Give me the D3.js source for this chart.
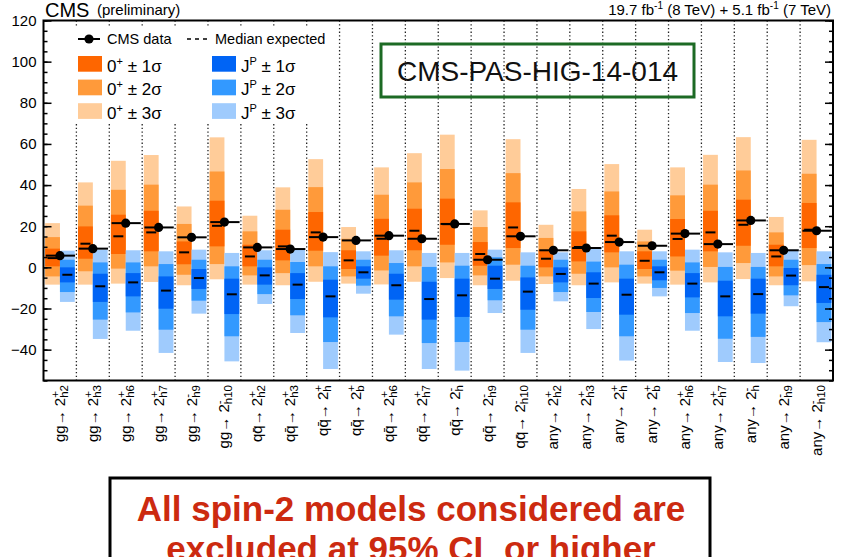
<!DOCTYPE html>
<html>
<head>
<meta charset="utf-8">
<script src="https://cdn.jsdelivr.net/npm/d3@7"></script>
<style>
body { margin: 0; background: #fff; }
svg text { font-family: "Liberation Sans", Arial, Helvetica, sans-serif; }
</style>
</head>
<body>
<script>
// categories: production mode + spin-2 model (parity / subscript)
const prodModes = ["gg","gg","gg","gg","gg","gg",
  "qq\u0304","qq\u0304","qq\u0304","qq\u0304","qq\u0304","qq\u0304","qq\u0304","qq\u0304","qq\u0304",
  "any","any","any","any","any","any","any","any","any"];
const spinSup = ["+","+","+","+","-","-",
  "+","+","+","+","+","+","-","-","-",
  "+","+","+","+","+","+","-","-","-"];
const spinSub = ["h2","h3","h6","h7","h9","h10",
  "h2","h3","h","b","h6","h7","h","h9","h10",
  "h2","h3","h","b","h6","h7","h","h9","h10"];

// observed test statistic
const cmsData = [5.7, 9.1, 21.5, 19.4, 14.6, 22.0, 9.7, 8.9, 14.7, 13.1, 15.4, 13.9,
  21.1, 3.7, 15.1, 8.3, 9.4, 12.3, 10.5, 16.4, 11.3, 22.8, 8.3, 17.8];

// 0+ expectation
const smMedian = [4.5, 11.5, 15.1, 17.0, 7.3, 20.2, 5.3, 10.2, 17.0, 3.4, 13.9, 17.8,
  21.0, 6.5, 19.4, 4.2, 9.9, 15.4, 3.2, 13.8, 17.0, 20.7, 5.3, 18.3];
const sm1Hi = [9.1, 19.9, 25.6, 27.5, 12.6, 32.4, 11.0, 18.3, 26.9, 8.3, 23.6, 28.5,
  33.4, 12.3, 31.6, 8.6, 17.5, 25.3, 7.8, 23.5, 27.5, 32.9, 11.0, 31.3];
const sm1Lo = [0.5, 4.2, 6.5, 7.8, 1.5, 10.2, 0.5, 3.4, 8.1, -0.8, 5.7, 8.3,
  11.0, 0.8, 9.4, 0.0, 2.9, 7.3, -0.8, 5.3, 7.8, 10.5, 0.5, 9.4];
const sm2Hi = [14.7, 30.0, 37.7, 40.2, 21.1, 46.6, 17.5, 28.0, 39.0, 13.9, 35.3, 41.3,
  47.8, 19.6, 45.8, 14.3, 27.2, 36.9, 12.6, 35.0, 40.2, 47.1, 17.0, 45.5];
const sm2Lo = [-4.4, -1.9, -0.6, 0.5, -3.6, 1.6, -3.9, -2.8, 0.5, -4.4, -1.5, 0.5,
  2.4, -3.9, 1.3, -4.4, -3.1, 0.0, -4.4, -1.6, 0.2, 2.1, -4.4, 1.1];
const sm3Hi = [21.5, 41.3, 51.8, 54.6, 29.6, 63.2, 25.1, 38.9, 52.6, 19.6, 48.6, 55.5,
  64.5, 27.7, 62.3, 20.7, 38.1, 50.2, 18.3, 48.6, 54.7, 63.3, 24.5, 62.0];
const sm3Lo = [-8.4, -8.4, -7.9, -7.1, -8.7, -5.8, -8.4, -8.7, -7.0, -7.9, -8.3, -7.0,
  -5.2, -8.7, -6.5, -8.1, -8.7, -7.3, -7.9, -8.4, -7.3, -5.7, -8.7, -6.8];

// J^P expectation
const altMedian = [-3.6, -9.2, -7.3, -11.3, -5.2, -13.1, -3.9, -8.4, -14.1, -2.4, -8.7, -15.4,
  -13.6, -5.5, -11.8, -3.2, -7.9, -13.3, -2.4, -7.9, -14.1, -13.0, -4.0, -9.6];
const alt1Hi = [0.0, -3.1, -2.8, -4.4, -0.8, -5.5, 0.0, -2.8, -6.0, 0.5, -3.1, -7.0,
  -5.5, 0.8, -4.9, 0.0, -2.4, -5.5, 0.5, -2.8, -6.5, -5.5, -0.3, -3.6];
const alt1Lo = [-7.3, -16.8, -14.1, -20.1, -10.5, -22.7, -8.4, -15.4, -24.3, -5.5, -15.7, -25.4,
  -24.1, -10.5, -20.6, -7.3, -14.9, -23.0, -6.3, -14.6, -23.8, -22.5, -8.7, -17.3];
const alt2Hi = [3.7, 2.4, 2.4, 1.6, 3.7, 0.5, 3.7, 2.6, 0.5, 3.7, 2.1, 0.2,
  0.8, 4.9, 0.8, 3.7, 2.8, 1.3, 3.7, 2.4, 0.2, 0.2, 3.7, 1.6];
const alt2Lo = [-12.0, -25.4, -21.9, -30.3, -16.2, -33.5, -13.0, -23.3, -36.3, -8.9, -23.8, -36.8,
  -36.3, -16.0, -30.3, -12.0, -21.7, -33.5, -10.0, -22.2, -34.7, -33.8, -13.6, -26.6];
const alt3Hi = [8.1, 8.6, 8.3, 7.8, 8.6, 7.0, 8.3, 8.6, 7.4, 7.8, 8.3, 7.0,
  7.0, 8.6, 7.3, 7.3, 8.9, 7.8, 7.8, 8.6, 7.3, 7.0, 8.6, 7.8];
const alt3Lo = [-16.8, -34.8, -30.8, -41.6, -22.5, -45.7, -17.8, -31.9, -49.4, -12.8, -32.7, -49.4,
  -50.2, -22.2, -41.6, -16.5, -30.0, -45.3, -14.1, -30.8, -46.0, -46.5, -18.9, -36.4];

const yMajorTicks = [-40, -20, 0, 20, 40, 60, 80, 100, 120];

const width = 850, height = 557;
const plotL = 43.5, plotR = 833, plotT = 20.5, plotB = 380.5;
const orange = ["#fe6600", "#ff9a3a", "#ffcc99"];
const blue = ["#0064f5", "#3399ff", "#9fcbfd"];

const svg = d3.select("body").append("svg")
  .attr("width", width).attr("height", height);

const idx = d3.range(cmsData.length);
const x = d3.scaleBand().domain(idx).range([plotL, plotR]);
const bw = x.bandwidth();
const sub = d3.scaleBand().domain(["sm", "alt"]).range([0.05 * bw, 0.95 * bw]);
const y = d3.scaleLinear().domain([-55, 120]).range([plotB, plotT]);

// dotted separators
svg.append("g").selectAll("line")
  .data(idx.slice(1))
  .join("line")
  .attr("x1", d => x(d)).attr("x2", d => x(d))
  .attr("y1", plotT).attr("y2", plotB)
  .attr("stroke", "#222").attr("stroke-width", 1.3)
  .attr("stroke-dasharray", "1.3,2.4");

// bands
const bandSets = [
  { key: "sm", lo: [sm3Lo, sm2Lo, sm1Lo], hi: [sm3Hi, sm2Hi, sm1Hi], col: [orange[2], orange[1], orange[0]] },
  { key: "alt", lo: [alt3Lo, alt2Lo, alt1Lo], hi: [alt3Hi, alt2Hi, alt1Hi], col: [blue[2], blue[1], blue[0]] }
];
bandSets.forEach(set => {
  for (let k = 0; k < 3; k++) {
    svg.append("g").selectAll("rect")
      .data(idx)
      .join("rect")
      .attr("x", i => x(i) + sub(set.key))
      .attr("width", sub.bandwidth())
      .attr("y", i => y(set.hi[k][i]))
      .attr("height", i => y(set.lo[k][i]) - y(set.hi[k][i]))
      .attr("fill", set.col[k]);
  }
});

// median expected dashes
[["sm", smMedian], ["alt", altMedian]].forEach(([key, arr]) => {
  svg.append("g").selectAll("line")
    .data(idx)
    .join("line")
    .attr("x1", i => x(i) + sub(key) + sub.bandwidth() / 2 - 5)
    .attr("x2", i => x(i) + sub(key) + sub.bandwidth() / 2 + 5)
    .attr("y1", i => y(arr[i])).attr("y2", i => y(arr[i]))
    .attr("stroke", "#000").attr("stroke-width", 2);
});

// observed
svg.append("g").selectAll("line")
  .data(idx)
  .join("line")
  .attr("x1", i => x(i) + 0.07 * bw).attr("x2", i => x(i) + 0.96 * bw)
  .attr("y1", i => y(cmsData[i])).attr("y2", i => y(cmsData[i]))
  .attr("stroke", "#000").attr("stroke-width", 2);
svg.append("g").selectAll("circle")
  .data(idx)
  .join("circle")
  .attr("cx", i => x(i) + bw / 2)
  .attr("cy", i => y(cmsData[i]))
  .attr("r", 4.6)
  .attr("fill", "#000");

// axes
const yAxisL = d3.axisLeft(y).tickValues(yMajorTicks).tickSize(-8).tickPadding(7).tickFormat(d3.format("d"));
const gL = svg.append("g").attr("transform", `translate(${plotL},0)`).call(yAxisL);
gL.select(".domain").remove();
gL.selectAll("text").style("font-size", "15px").attr("fill", "#000")
  .style("font-family", "'Liberation Sans', Arial, sans-serif");
gL.selectAll("line").attr("stroke-width", 1.5);
const minorL = svg.append("g").attr("transform", `translate(${plotL},0)`)
  .call(d3.axisLeft(y).tickValues(d3.range(-55, 121, 5)).tickSize(-4).tickFormat(""));
minorL.select(".domain").remove();
minorL.selectAll("line").attr("stroke-width", 1.5);
const gR = svg.append("g").attr("transform", `translate(${plotR},0)`)
  .call(d3.axisRight(y).tickValues(yMajorTicks).tickSize(-8).tickFormat(""));
gR.select(".domain").remove();
gR.selectAll("line").attr("stroke-width", 1.5);
const minorR = svg.append("g").attr("transform", `translate(${plotR},0)`)
  .call(d3.axisRight(y).tickValues(d3.range(-55, 121, 5)).tickSize(-4).tickFormat(""));
minorR.select(".domain").remove();
minorR.selectAll("line").attr("stroke-width", 1.5);

svg.append("rect")
  .attr("x", plotL).attr("y", plotT)
  .attr("width", plotR - plotL).attr("height", plotB - plotT)
  .attr("fill", "none").attr("stroke", "#000").attr("stroke-width", 2);

// category labels
const lab = svg.append("g").selectAll("text")
  .data(idx)
  .join("text")
  .attr("transform", i => `translate(${x(i) + bw / 2 + 5},385) rotate(-90)`)
  .attr("text-anchor", "end")
  .style("font-size", "15px");
lab.append("tspan").text(i => prodModes[i] + "\u2192 2");
lab.append("tspan").attr("dy", -6).style("font-size", "11.5px").text(i => spinSup[i]);
lab.append("tspan")
  .attr("dx", i => spinSup[i] === "+" ? -6.7 : -3.8)
  .attr("dy", 9)
  .style("font-size", "11.5px")
  .text(i => spinSub[i]);

// header
svg.append("text").attr("x", 45).attr("y", 17).style("font-size", "20px").text("CMS");
svg.append("text").attr("x", 97).attr("y", 15).style("font-size", "15px").text("(preliminary)");
const lumi = svg.append("text").attr("x", 831).attr("y", 15)
  .attr("text-anchor", "end").style("font-size", "15px");
lumi.append("tspan").text("19.7 fb");
lumi.append("tspan").attr("dy", -6).style("font-size", "10px").text("-1");
lumi.append("tspan").attr("dy", 6).text(" (8 TeV) + 5.1 fb");
lumi.append("tspan").attr("dy", -6).style("font-size", "10px").text("-1");
lumi.append("tspan").attr("dy", 6).text(" (7 TeV)");

// legend
const leg = svg.append("g");
leg.append("rect").attr("x", 70).attr("y", 27).attr("width", 268).attr("height", 96).attr("fill", "#fff");
leg.append("line").attr("x1", 78).attr("x2", 100).attr("y1", 39).attr("y2", 39)
  .attr("stroke", "#000").attr("stroke-width", 2);
leg.append("circle").attr("cx", 89).attr("cy", 39).attr("r", 4.6).attr("fill", "#000");
leg.append("text").attr("x", 107).attr("y", 44).style("font-size", "14.5px").text("CMS data");
leg.append("line").attr("x1", 187).attr("x2", 211).attr("y1", 39).attr("y2", 39)
  .attr("stroke", "#000").attr("stroke-width", 1.5).attr("stroke-dasharray", "4,4");
leg.append("text").attr("x", 215).attr("y", 44).style("font-size", "14.5px").text("Median expected");

const legRows = [1, 2, 3];
[[78, orange, "0", "+"], [212, blue, "J", "P"]].forEach(([lx, cols, base, sup]) => {
  legRows.forEach((n, k) => {
    const by = 71.7 + k * 23.6;
    leg.append("rect").attr("x", lx).attr("y", by - 15.7)
      .attr("width", 24).attr("height", 15.7).attr("fill", cols[k]);
    const t = leg.append("text").attr("x", lx + 29).attr("y", by).style("font-size", "17px");
    t.append("tspan").text(base);
    t.append("tspan").attr("dy", -7).style("font-size", "11px").text(sup);
    t.append("tspan").attr("dy", 7).text(" \u00b1 " + n + "\u03c3");
  });
});

// analysis note box
svg.append("rect").attr("x", 381).attr("y", 44).attr("width", 313).attr("height", 53)
  .attr("fill", "none").attr("stroke", "#1c6a24").attr("stroke-width", 3);
svg.append("text").attr("x", 537.5).attr("y", 81).attr("text-anchor", "middle")
  .style("font-size", "28px").attr("fill", "#111").text("CMS-PAS-HIG-14-014");

// conclusion box
svg.append("rect").attr("x", 110).attr("y", 478).attr("width", 600).attr("height", 100)
  .attr("fill", "#fff").attr("stroke", "#000").attr("stroke-width", 3);
svg.append("text").attr("x", 411).attr("y", 521).attr("text-anchor", "middle")
  .style("font-size", "35px").style("font-weight", "bold").attr("fill", "#cc2a10")
  .text("All spin-2 models considered are");
svg.append("text").attr("x", 411).attr("y", 561).attr("text-anchor", "middle")
  .style("font-size", "35px").style("font-weight", "bold").attr("fill", "#cc2a10")
  .text("excluded at 95% CL or higher");
</script>
</body>
</html>
